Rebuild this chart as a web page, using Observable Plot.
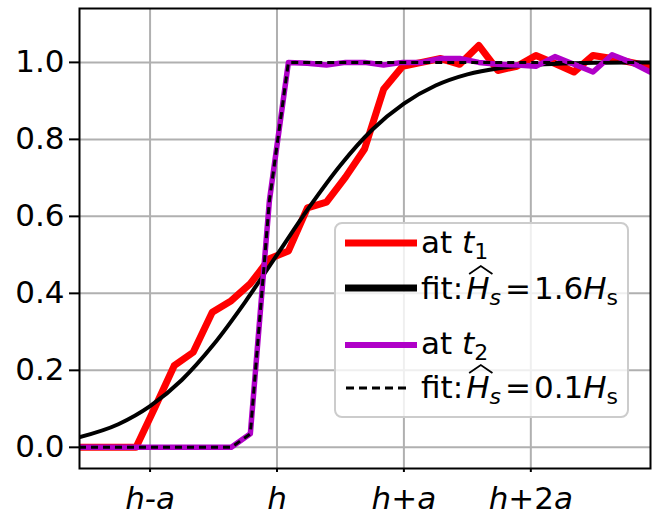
<!DOCTYPE html>
<html>
<head>
<meta charset="utf-8">
<script src="https://cdn.jsdelivr.net/npm/d3@7"></script>
<script src="https://cdn.jsdelivr.net/npm/@observablehq/plot@0.6"></script>
<style>
  html, body { margin: 0; padding: 0; background: #fff; }
  #chart svg { display: block; }
</style>
</head>
<body>
<div id="chart"></div>
<script>
// ---- data (x in units of a, relative to h) ----
const sampleX = [-1.56, -1.41, -1.26, -1.11, -0.96, -0.81, -0.66, -0.51, -0.36, -0.21, -0.06,
                 0.09, 0.24, 0.39, 0.54, 0.69, 0.84, 0.99, 1.14, 1.29, 1.44, 1.59, 1.74,
                 1.89, 2.04, 2.19, 2.34, 2.49, 2.64, 2.79, 2.94];
const redT1 = [0, 0, 0, 0, 0.105, 0.212, 0.247, 0.351, 0.381, 0.425, 0.49,
               0.51, 0.622, 0.637, 0.702, 0.775, 0.93, 0.99, 1.0, 1.01, 0.995, 1.044, 0.979,
               0.99, 1.018, 0.997, 0.975, 1.018, 1.01, 1.0, 0.99];
const purpleT2 = [0, 0, 0, 0, 0, 0, 0, 0, 0, 0.035, 0.64,
                  1.0, 0.998, 0.993, 1.0, 1.0, 0.993, 1.0, 1.0, 1.01, 1.01, 1.0, 0.995,
                  0.993, 0.99, 1.015, 0.995, 0.975, 1.02, 1.0, 0.975];
const fitT2 = [0, 0, 0, 0, 0, 0, 0, 0, 0, 0.035, 0.64,
               1.0, 1.0, 1.0, 1.0, 1.0, 1.0, 1.0, 1.0, 1.0, 1.0, 1.0, 1.0,
               1.0, 1.0, 1.0, 1.0, 1.0, 1.0, 1.0, 1.0];
const fitX = [-1.56, -1.25, -1.0, -0.75, -0.5, -0.25, 0, 0.25, 0.5, 0.75, 1.0, 1.25,
              1.5, 1.75, 2.0, 2.25, 2.5, 2.75, 2.94];
const fitT1 = [0.026, 0.060, 0.107, 0.175, 0.267, 0.378, 0.5, 0.622, 0.733, 0.825, 0.893, 0.940,
               0.969, 0.985, 0.993, 0.997, 0.999, 1.0, 1.0];
const xTicks = [-1, 0, 1, 2];
const xTickLabels = ["h-a", "h", "h+a", "h+2a"];
const yTicks = [0, 0.2, 0.4, 0.6, 0.8, 1.0];
const legendLabels = ["at t1", "fit:Hs=1.6Hs", "at t2", "fit:Hs=0.1Hs"];
const legendFactors = ["1.6", "0.1"];

const RED = "#ff0000", PURPLE = "#b000c8";

const redData = sampleX.map((x, i) => ({x, y: redT1[i]}));
const purpleData = sampleX.map((x, i) => ({x, y: purpleT2[i]}));
const fit2Data = sampleX.map((x, i) => ({x, y: fitT2[i]}));
const fit1Data = fitX.map((x, i) => ({x, y: fitT1[i]}));

const FS = 31;

const chart = Plot.plot({
  width: 652,
  height: 513,
  marginLeft: 79,
  marginRight: 2,
  marginTop: 8,
  marginBottom: 45,
  x: {domain: [-1.556, 2.943], label: null},
  y: {domain: [-0.055, 1.14], label: null},
  style: {fontFamily: "DejaVu Sans", fontSize: FS + "px", color: "black", background: "white", overflow: "visible"},
  marks: [
    Plot.gridX(xTicks, {stroke: "#b0b0b0", strokeOpacity: 1, strokeWidth: 2}),
    Plot.gridY(yTicks, {stroke: "#b0b0b0", strokeOpacity: 1, strokeWidth: 2}),
    Plot.line(redData, {x: "x", y: "y", stroke: RED, strokeWidth: 7, clip: true}),
    Plot.line(fit1Data, {x: "x", y: "y", stroke: "black", strokeWidth: 4, curve: "monotone-x", clip: true}),
    Plot.line(purpleData, {x: "x", y: "y", stroke: PURPLE, strokeWidth: 5.5, clip: true}),
    Plot.line(fit2Data, {x: "x", y: "y", stroke: "black", strokeWidth: 3, strokeDasharray: "7,5", strokeLinecap: "butt", clip: true}),
    Plot.frame({stroke: "black", strokeWidth: 2}),
    Plot.axisX(xTicks, {tickFormat: d => xTickLabels[xTicks.indexOf(d)], tickSize: 4, tickPadding: 14, fontSize: FS, strokeWidth: 2, label: null}),
    Plot.axisY(yTicks, {tickFormat: d3.format(".1f"), tickSize: 10, tickPadding: 5, fontSize: FS, strokeWidth: 2, label: null})
  ]
});

document.getElementById("chart").appendChild(chart);

const svg = d3.select(chart);
const NS = "http://www.w3.org/2000/svg";

// italic math-style x tick labels
svg.selectAll('g[aria-label="x-axis tick label"] text').each(function() {
  const label = this.textContent;
  this.textContent = "";
  for (const ch of label) {
    const t = document.createElementNS(NS, "tspan");
    t.textContent = ch;
    t.setAttribute("font-style", /[a-z\-]/.test(ch) ? "italic" : "normal");
    this.appendChild(t);
  }
});

// ---- legend (inside the axes, matplotlib style) ----
const lg = svg.append("g").attr("class", "legend")
  .attr("font-family", "DejaVu Sans").attr("font-size", FS).attr("text-anchor", "start");
lg.append("rect").attr("x", 335).attr("y", 223).attr("width", 293).attr("height", 194)
  .attr("rx", 7).attr("fill", "white").attr("fill-opacity", 0.8)
  .attr("stroke", "#cccccc").attr("stroke-width", 2);

const entries = [
  {cy: 243, base: 253, stroke: RED, sw: 7, dash: null, kind: "at", sub: "1"},
  {cy: 288, base: 299, stroke: "black", sw: 7, dash: null, kind: "fit", factor: legendFactors[0]},
  {cy: 345, base: 354, stroke: PURPLE, sw: 6, dash: null, kind: "at", sub: "2"},
  {cy: 388, base: 398, stroke: "black", sw: 3, dash: "8,5", kind: "fit", factor: legendFactors[1]}
];

for (const e of entries) {
  const ln = lg.append("line").attr("x1", 345).attr("x2", 417).attr("y1", e.cy).attr("y2", e.cy)
    .attr("stroke", e.stroke).attr("stroke-width", e.sw);
  if (e.dash) ln.attr("stroke-dasharray", e.dash).attr("x1", 346).attr("x2", 410);
  const txt = lg.append("text").attr("x", 421).attr("y", e.base).attr("fill", "black").attr("text-anchor", "start");
  if (e.kind === "at") {
    txt.append("tspan").text("at ");
    txt.append("tspan").attr("font-style", "italic").text("t");
    txt.append("tspan").attr("font-size", 22).attr("dy", 6).text(e.sub);
  } else {
    txt.append("tspan").text("fit:");
    txt.append("tspan").attr("font-style", "italic").attr("dx", 3).text("H");
    txt.append("tspan").attr("font-style", "italic").attr("font-size", 22).attr("dy", 6).text("s");
    txt.append("tspan").attr("dx", 4).attr("dy", -6).text("=");
    txt.append("tspan").attr("dx", 3).text(e.factor);
    txt.append("tspan").attr("font-style", "italic").text("H");
    txt.append("tspan").attr("font-size", 22).attr("dy", 6).text("s");
    // wide hat over the first H
    const ext = txt.node().getExtentOfChar(4);
    const x0 = ext.x + 3, x1 = ext.x + ext.width + 3;
    lg.append("path")
      .attr("d", `M${x0},${e.base - 25}L${(x0 + x1) / 2},${e.base - 33}L${x1},${e.base - 25}`)
      .attr("fill", "none").attr("stroke", "black").attr("stroke-width", 1.8);
  }
}
</script>
</body>
</html>
